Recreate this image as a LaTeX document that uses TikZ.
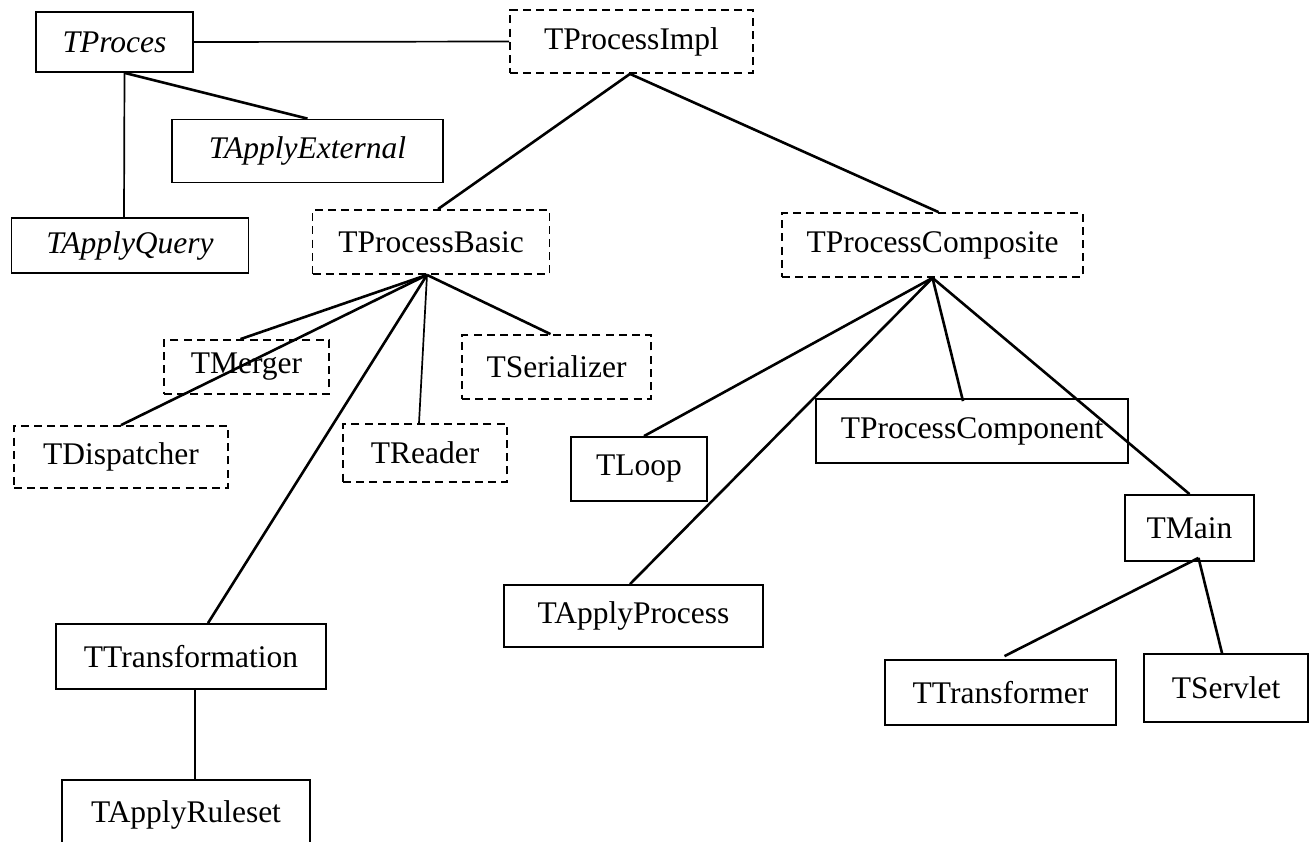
\documentclass[tikz,border=0pt]{standalone}
\usepackage{fontspec}
\setmainfont{Liberation Serif}
\usepackage{tikz}
\usetikzlibrary{positioning}
\tikzset{cls/.style = {draw, line width = 0.9pt, inner sep = 0,
                       font = \fontsize{15.75}{18}\selectfont}}
\tikzset{abscls/.style = {cls, font = \fontsize{15.75}{18}\selectfont\itshape}}
\tikzset{implcls/.style = {cls, dash pattern = on 4pt off 2.6pt}}
\tikzset{link/.style = {line width = 1.3pt}}
\tikzset{thinlink/.style = {line width = 0.85pt}}

\begin{document}
\begin{tikzpicture}[x = 0.5pt, y = -0.5pt]
    \useasboundingbox (0, 0) rectangle (1316, 841);

    \node [abscls, minimum width = 78.5pt, minimum height = 30pt] (proces) at (114.5, 42) {TProces};
    \node [implcls, minimum width = 121.5pt, minimum height = 31.5pt] (impl) at (631.5, 41.5) {TProcessImpl};
    \node [abscls, minimum width = 135.5pt, minimum height = 31.5pt] (external) at (307.5, 151) {TApplyExternal};
    \node [abscls, minimum width = 118.5pt, minimum height = 27.5pt] (query) at (130, 245.5) {TApplyQuery};

    \node [implcls, minimum width = 118.5pt, minimum height = 32pt] (basic) at (431, 242) {TProcessBasic};
    \node [implcls, minimum width = 150.5pt, minimum height = 32pt] (composite) at (932.5, 245) {TProcessComposite};

    \node [implcls, minimum width = 82.5pt, minimum height = 27pt] (merger) at (246.5, 367) {TMerger};
    \node [implcls, minimum width = 94.5pt, minimum height = 32pt] (serializer) at (556.5, 367) {TSerializer};
    \node [implcls, minimum width = 107pt, minimum height = 31pt] (dispatcher) at (121, 457) {TDispatcher};
    \node [implcls, minimum width = 82pt, minimum height = 29pt] (reader) at (425, 453) {TReader};
    \node [cls, minimum width = 135pt, minimum height = 32.5pt] (transformation) at (191, 656.5) {TTransformation};
    \node [cls, minimum width = 124pt, minimum height = 35pt] (ruleset) at (186, 815) {TApplyRuleset};

    \node [cls, minimum width = 68pt, minimum height = 32pt] (loop) at (639, 469) {TLoop};
    \node [cls, minimum width = 156pt, minimum height = 32pt] (component) at (972, 431) {TProcessComponent};
    \node [cls, minimum width = 129.5pt, minimum height = 31pt] (applyprocess) at (633.5, 616) {TApplyProcess};
    \node [cls, minimum width = 64.5pt, minimum height = 33pt] (main) at (1189.5, 528) {TMain};
    \node [cls, minimum width = 115.5pt, minimum height = 32.5pt] (transformer) at (1000.5, 692.5) {TTransformer};
    \node [cls, minimum width = 82pt, minimum height = 34pt] (servlet) at (1226, 688) {TServlet};

    % TProces
    \draw [thinlink] (proces.east) -- (impl.west);
    \draw [thinlink] ([xshift = 5pt]proces.south) -- ([xshift = -3pt]query.north);
    \draw [link] ([xshift = 5pt]proces.south) -- (external.north);

    % TProcessImpl
    \draw [link] ([xshift = -0.75pt]impl.south) -- ([xshift = 3.5pt]basic.north);
    \draw [link] ([xshift = -0.75pt]impl.south) -- ([xshift = 3pt]composite.north);

    % TProcessBasic
    \draw [link] ([xshift = -2pt]basic.south) -- ([xshift = -3pt]merger.north);
    \draw [link] ([xshift = -2pt]basic.south) -- (dispatcher.north);
    \draw [link] ([xshift = -2pt]basic.south) -- ([xshift = 8.5pt]transformation.north);
    \draw [thinlink] ([xshift = -2pt]basic.south) -- ([xshift = -3pt]reader.north);
    \draw [link] ([xshift = -2pt]basic.south) -- ([xshift = -3pt]serializer.north);
    \draw [thinlink] ([xshift = 2pt]transformation.south) -- ([xshift = 4.5pt]ruleset.north);

    % TProcessComposite
    \draw [link] (composite.south) -- ([xshift = 2.5pt]loop.north);
    \draw [link] (composite.south) -- ([xshift = -1.75pt]applyprocess.north);
    \draw [link] (composite.south) -- ([xshift = -4.5pt, yshift = -1.5pt]component.north);
    \draw [link] (composite.south) -- (main.north);

    % TMain
    \draw [link] ([xshift = 4.5pt, yshift = 2pt]main.south) -- ([xshift = 2pt, yshift = 1.5pt]transformer.north);
    \draw [link] ([xshift = 4.5pt, yshift = 2pt]main.south) -- ([xshift = -2pt]servlet.north);
\end{tikzpicture}
\end{document}
